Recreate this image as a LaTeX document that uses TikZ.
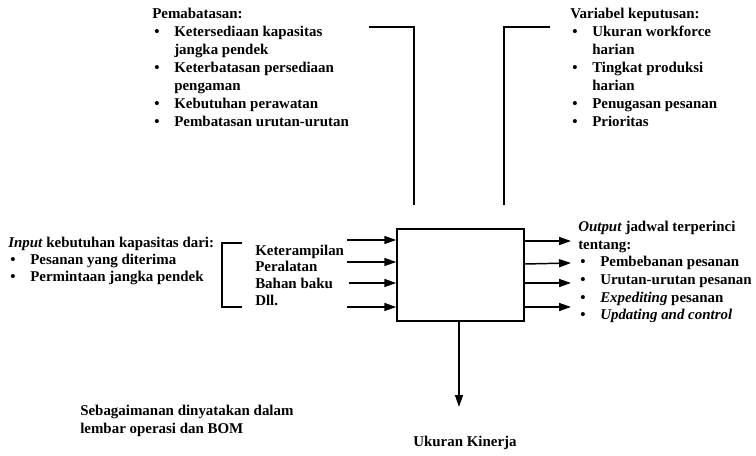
\documentclass[tikz,border=0pt]{standalone}
\usepackage{fontspec}
\setmainfont{Liberation Serif}
\usetikzlibrary{arrows.meta}
\newcommand{\bu}{\makebox[16.5pt][l]{\hspace{1.5pt}\textbullet}}
\newcommand{\ind}{\makebox[16.5pt]{}}
\begin{document}
\begin{tikzpicture}[x=0.75pt,y=-0.75pt,
  txt/.style={inner sep=0pt, align=left, anchor=north west,
    font=\bfseries\fontsize{11.2}{13.5}\selectfont},
  ln/.style={line width=1.1pt},
  arr/.style={line width=1.1pt, -{Triangle[length=9pt,width=6pt]}}]
\useasboundingbox (0,0) rectangle (756,456);
% main box
\node[draw, line width=1.1pt, minimum width=127*0.75pt, minimum height=92*0.75pt, inner sep=0pt] (box) at (460.5,275) {};
% top texts
\node[txt] (pem) at (152,8) {Pemabatasan:\\
\bu Ketersediaan kapasitas\\
\ind jangka pendek\\
\bu Keterbatasan persediaan\\
\ind pengaman\\
\bu Kebutuhan perawatan\\
\bu Pembatasan urutan-urutan};
\node[txt] (var) at (570,8) {Variabel keputusan:\\
\bu Ukuran workforce\\
\ind harian\\
\bu Tingkat produksi\\
\ind harian\\
\bu Penugasan pesanan\\
\bu Prioritas};
% top connector lines
\coordinate (tl0) at (369,27);
\coordinate (tl1) at (414,27);
\coordinate (tl2) at (414,205);
\coordinate (tr0) at (550,27);
\coordinate (tr1) at (504,27);
\coordinate (tr2) at (504,205);
\draw[ln] (tl0) -- (tl1) -- (tl2);
\draw[ln] (tr0) -- (tr1) -- (tr2);
% input text
\node[txt, font=\bfseries\fontsize{11.2}{12.75}\selectfont] (inp) at (8,236.5) {\textit{Input} kebutuhan kapasitas dari:\\
\bu Pesanan yang diterima\\
\bu Permintaan jangka pendek};
% bracket
\coordinate (b0) at (242,243);
\coordinate (b1) at (222,243);
\coordinate (b2) at (222,307);
\coordinate (b3) at (242,307);
\draw[line width=0.9pt] (b0) -- (b1) -- (b2) -- (b3);
\node[txt, font=\bfseries\fontsize{11.2}{12.5}\selectfont] (res) at (255,244.5) {Keterampilan\\Peralatan\\Bahan baku\\Dll.};
% input arrows
\coordinate (i1) at (347,240);
\coordinate (i2) at (347,262);
\coordinate (i3) at (349,283);
\coordinate (i4) at (347,307);
\draw[arr] (i1) -- (i1 -| box.west);
\draw[arr] (i2) -- (i2 -| box.west);
\draw[arr] (i3) -- (i3 -| box.west);
\draw[arr] (i4) -- (i4 -| box.west);
% output arrows
\coordinate (o1) at (571,241);
\coordinate (o2) at (571,263);
\coordinate (o3) at (571,283);
\coordinate (o4) at (571,307);
\draw[arr] (o1 -| box.east) -- (o1);
\draw[arr] ([yshift=-0.75pt]o2 -| box.east) -- (o2);
\draw[arr] (o3 -| box.east) -- (o3);
\draw[arr] (o4 -| box.east) -- (o4);
% output text
\node[txt, font=\bfseries\fontsize{11.2}{13.2}\selectfont] (out) at (578,221) {\textit{Output} jadwal terperinci\\
tentang:\\
\bu Pembebanan pesanan\\
\bu Urutan-urutan pesanan\\
\bu \textit{Expediting} pesanan\\
\bu \textit{Updating and control}};
% down arrow
\coordinate (dn) at (459,407);
\draw[arr] (box.south -| dn) -- (dn);
\node[inner sep=0pt, font=\bfseries\fontsize{11.2}{13.5}\selectfont] (uk) at (465,443) {Ukuran Kinerja};
\node[txt, font=\bfseries\fontsize{11.2}{13.2}\selectfont] (seb) at (80,405) {Sebagaimanan dinyatakan dalam\\lembar operasi dan BOM};
\end{tikzpicture}
\end{document}
